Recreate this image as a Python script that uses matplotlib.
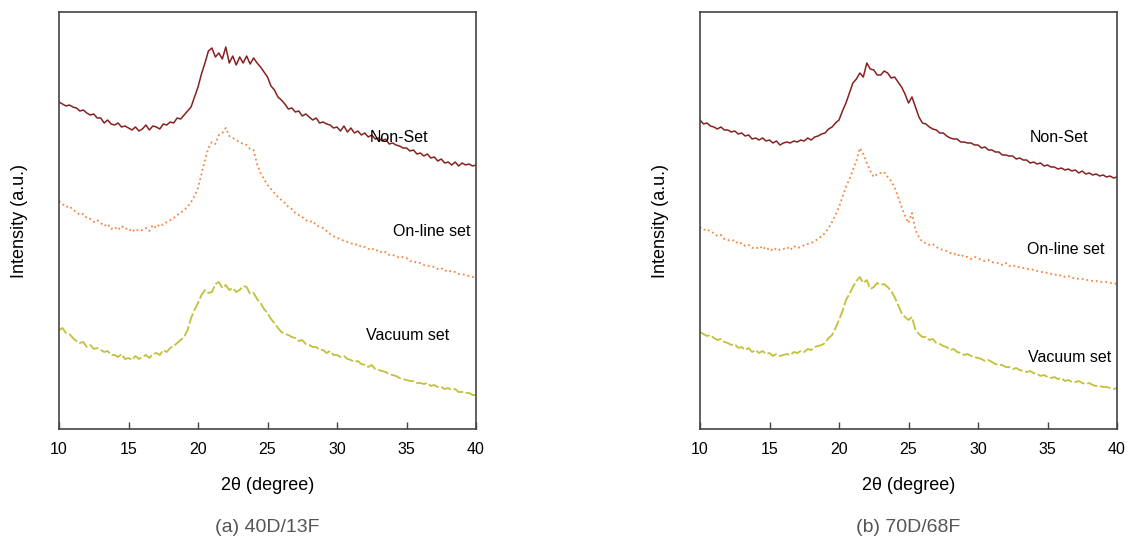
import numpy as np
import matplotlib
matplotlib.use('Agg')
import matplotlib.pyplot as plt

plt.rcParams['font.family'] = ['Liberation Sans', 'DejaVu Sans']

# intensities, 2theta from 10 to 40 in 0.25 steps
a_nonset = [327, 325, 323, 324, 322, 321, 318, 319, 316, 314, 315, 311, 311, 306, 309, 305,
            304, 306, 302, 303, 301, 299, 302, 298, 300, 304, 299, 303, 302, 300, 305, 304,
            307, 306, 311, 310, 314, 318, 322, 332, 342, 355, 366, 378, 381, 372, 376, 370,
            382, 366, 373, 364, 372, 366, 373, 365, 371, 366, 362, 357, 352, 343, 339, 332,
            329, 325, 320, 321, 317, 318, 313, 315, 312, 309, 311, 306, 307, 305, 304, 301,
            302, 298, 303, 297, 301, 296, 298, 294, 296, 292, 294, 290, 291, 288, 290, 285,
            286, 284, 283, 281, 281, 278, 279, 275, 276, 273, 275, 271, 272, 268, 270, 266,
            267, 264, 267, 263, 266, 264, 265, 263, 264]
a_online = [228, 225, 222, 223, 219, 217, 214, 215, 211, 210, 207, 209, 206, 203, 205, 200,
            202, 199, 203, 200, 201, 197, 200, 198, 199, 201, 198, 204, 201, 205, 204, 207,
            209, 211, 214, 216, 219, 222, 227, 233, 241, 255, 269, 281, 287, 285, 294, 296,
            301, 293, 291, 289, 287, 285, 284, 280, 279, 265, 256, 250, 244, 240, 236, 232,
            229, 226, 222, 220, 216, 214, 212, 209, 207, 208, 204, 202, 201, 198, 195, 193,
            191, 190, 188, 187, 186, 184, 185, 182, 182, 180, 181, 178, 179, 176, 177, 174,
            174, 173, 171, 172, 171, 168, 168, 166, 166, 164, 163, 163, 162, 160, 161, 158,
            159, 157, 157, 155, 155, 154, 153, 152, 152]
a_vacuum = [99, 101, 96, 95, 91, 88, 86, 87, 82, 84, 80, 81, 79, 77, 78, 74,
            74, 72, 75, 70, 71, 69, 73, 70, 72, 74, 71, 75, 76, 74, 79, 77,
            81, 83, 86, 89, 92, 99, 111, 119, 126, 134, 139, 136, 137, 145, 147, 141,
            144, 139, 141, 137, 139, 143, 142, 135, 136, 130, 126, 120, 116, 110, 106, 101,
            97, 95, 94, 92, 91, 88, 89, 85, 84, 82, 82, 79, 79, 76, 78, 74,
            74, 72, 73, 70, 69, 67, 68, 65, 64, 62, 64, 60, 59, 58, 57, 55,
            54, 53, 51, 50, 49, 48, 48, 46, 46, 45, 46, 43, 44, 42, 42, 40,
            41, 39, 40, 37, 37, 36, 36, 34, 34]

b_nonset = [309, 305, 306, 303, 302, 300, 302, 299, 299, 297, 298, 295, 296, 293, 294, 290,
            291, 289, 291, 288, 289, 286, 288, 284, 286, 287, 286, 288, 287, 289, 288, 291,
            289, 292, 293, 295, 296, 300, 302, 306, 309, 318, 326, 336, 346, 350, 356, 352,
            366, 360, 359, 354, 354, 358, 356, 351, 352, 347, 342, 335, 326, 332, 322, 312,
            306, 305, 302, 300, 299, 296, 296, 293, 291, 290, 290, 287, 287, 286, 286, 284,
            284, 281, 282, 279, 279, 277, 277, 274, 274, 273, 273, 270, 271, 269, 269, 266,
            267, 265, 266, 263, 264, 262, 262, 260, 261, 259, 260, 258, 259, 256, 258, 255,
            256, 254, 255, 253, 254, 252, 253, 251, 252]
b_online = [202, 199, 200, 197, 196, 193, 194, 190, 189, 188, 189, 185, 186, 183, 184, 181,
            182, 180, 183, 179, 181, 178, 181, 179, 180, 182, 179, 183, 181, 182, 184, 185,
            186, 188, 190, 193, 196, 201, 207, 214, 222, 232, 242, 250, 259, 268, 281, 275,
            266, 258, 252, 255, 256, 257, 252, 248, 242, 232, 222, 213, 206, 216, 199, 192,
            187, 186, 184, 185, 182, 180, 179, 178, 176, 176, 173, 175, 172, 172, 170, 172,
            171, 169, 168, 169, 167, 166, 166, 164, 166, 163, 164, 162, 162, 161, 160, 160,
            159, 158, 157, 157, 156, 155, 155, 153, 154, 152, 153, 151, 151, 150, 150, 149,
            149, 148, 148, 147, 147, 147, 146, 146, 145]
b_vacuum = [97, 95, 93, 94, 91, 89, 90, 87, 86, 84, 85, 81, 82, 79, 81, 77,
            79, 76, 78, 75, 76, 73, 75, 73, 74, 75, 74, 77, 76, 78, 77, 80,
            79, 82, 83, 84, 86, 91, 94, 101, 109, 118, 129, 135, 142, 148, 152, 146,
            149, 140, 142, 146, 144, 145, 142, 138, 132, 124, 116, 112, 109, 112, 99, 95,
            92, 92, 89, 90, 86, 85, 83, 82, 79, 80, 77, 76, 74, 75, 73, 72,
            71, 70, 68, 69, 67, 65, 64, 64, 62, 62, 60, 61, 59, 58, 57, 58,
            56, 55, 53, 54, 52, 51, 52, 50, 51, 48, 49, 47, 47, 48, 46, 45,
            46, 44, 43, 43, 42, 42, 41, 40, 41]

series_names = ['Non-Set', 'On-line set', 'Vacuum set']
titles = ['(a) 40D/13F', '(b) 70D/68F']
panels = [(a_nonset, a_online, a_vacuum), (b_nonset, b_online, b_vacuum)]
label_pos = [[(34.5, 292), (36.8, 197), (35.1, 94)],
             [(35.8, 292), (36.3, 179), (36.6, 71)]]

colors = ['#86211f', '#f3873f', '#c3c03a']
styles = ['-', ':', (0, (6, 1.5))]

fig = plt.figure(figsize=(11.31, 5.43), dpi=100)
ax_left = [59 / 1131, 700 / 1131]

for i, data in enumerate(panels):
    ax = fig.add_axes([ax_left[i], 114 / 543, 417 / 1131, 417 / 543])
    for j, vals in enumerate(data):
        x = np.linspace(10, 40, len(vals))
        lw = 1.1 if j == 0 else 1.3
        ax.plot(x, vals, color=colors[j], linestyle=styles[j], linewidth=lw)
        ax.text(label_pos[i][j][0], label_pos[i][j][1], series_names[j],
                ha='center', va='center', fontsize=11.5)
    ax.set_xlim(10, 40)
    ax.set_ylim(0, 417)
    ax.set_xticks([10, 15, 20, 25, 30, 35, 40])
    ax.set_yticks([])
    ax.tick_params(axis='x', direction='in', length=5, width=1, labelsize=11.5,
                   pad=9, color='#444444')
    for sp in ax.spines.values():
        sp.set_color('#444444')
        sp.set_linewidth(1.2)
    ax.set_xlabel('2θ (degree)', fontsize=13, labelpad=15)
    ax.set_ylabel('Intensity (a.u.)', fontsize=13, labelpad=22)
    ax.text(0.5, -0.237, titles[i], transform=ax.transAxes, ha='center', va='center',
            fontsize=14, color='#555555')

fig.savefig('out.png', dpi=100)
